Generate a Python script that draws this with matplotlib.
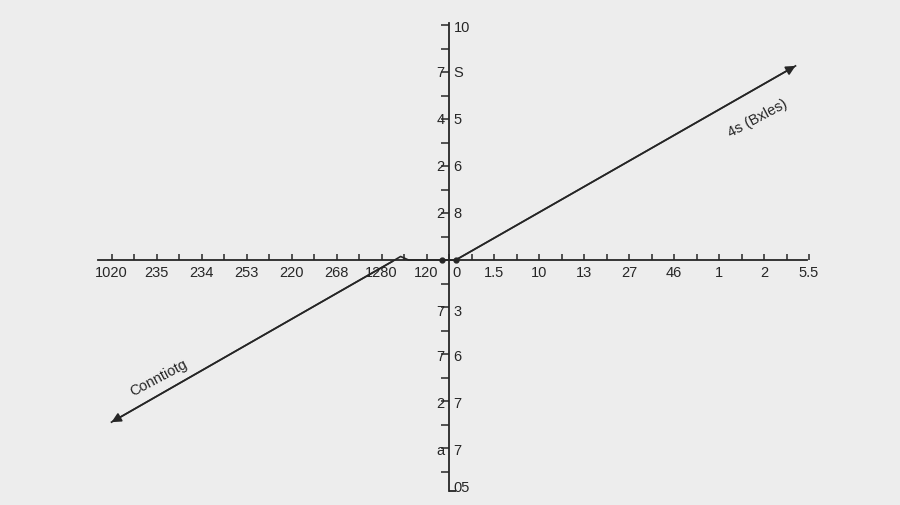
import numpy as np
import matplotlib
matplotlib.use("Agg")
import matplotlib.pyplot as plt

# tick labels as printed on the reference
x_labels_left = ["1020", "235", "234", "253", "220", "268", "1280", "120"]
x_labels_right = ["1.5", "10", "13", "27", "46", "1", "2", "5.5"]
y_labels_top = [("", "10"), ("7", "S"), ("4", "5"), ("2", "6"), ("2", "8")]
y_labels_bottom = [("7", "3"), ("7", "6"), ("2", "7"), ("a", "7"), ("", "05")]

# the single bent line, in axis units
line_x = [-15.0, -2.5, -2.15, -1.8, -0.3, 0.3, 15.4]
line_y = [-6.9, -0.05, 0.15, 0.0, 0.0, 0.0, 8.26]
dot_x = [-0.3, 0.3]
dot_y = [0.0, 0.0]

BG = "#ededed"
INK = "#262626"
FONT = "Liberation Sans"

fig = plt.figure(figsize=(9, 5.06), dpi=100)
fig.patch.set_facecolor(BG)
ax = fig.add_axes([0, 0, 1, 1])
ax.set_facecolor(BG)
ax.set_xlim(-449 / 22.5, 451 / 22.5)
ax.set_ylim(-245 / 23.5, 261 / 23.5)

for side in ["top", "right"]:
    ax.spines[side].set_visible(False)
for side in ["left", "bottom"]:
    ax.spines[side].set_position(("data", 0))
    ax.spines[side].set_color(INK)
    ax.spines[side].set_linewidth(1.3)
ax.spines["bottom"].set_bounds(-15.6, 15.9)
ax.spines["left"].set_bounds(-9.85, 10.1)

ax.set_xticks(np.arange(-15, 17))
ax.set_xticklabels([])
ax.set_yticks(np.arange(-9, 11))
ax.set_yticklabels([])
ax.tick_params(axis="x", direction="in", length=4, width=1.1, color=INK)
ax.tick_params(axis="y", direction="out", length=6, width=1.1, color=INK)
ax.hlines(-9.85, 0, 0.3, color=INK, lw=1.3)

# x tick labels: odd positions left of the axis, even to the right
for pos, lab in zip(np.arange(-15, 0, 2), x_labels_left):
    ax.text(pos, -0.2, lab, ha="center", va="top", fontsize=10.5,
            family=FONT, color=INK)
ax.text(0.32, -0.2, "0", ha="center", va="top", fontsize=10.5,
        family=FONT, color=INK)
for pos, lab in zip(np.arange(2, 17, 2), x_labels_right):
    ax.text(pos, -0.2, lab, ha="center", va="top", fontsize=10.5,
            family=FONT, color=INK)

# y tick labels split around the axis
y_top_pos = [9.9, 8.0, 6.0, 4.0, 2.0]
y_bot_pos = [-2.15, -4.1, -6.1, -8.1, -9.65]
for pos, (left, right) in zip(y_top_pos + y_bot_pos, y_labels_top + y_labels_bottom):
    if left:
        ax.text(-0.2, pos, left, ha="right", va="center", fontsize=10.5,
                family=FONT, color=INK)
    ax.text(0.2, pos, right, ha="left", va="center", fontsize=10.5,
            family=FONT, color=INK)

ax.plot(line_x, line_y, color=INK, lw=1.2, zorder=3)
ax.plot(dot_x, dot_y, "o", color=INK, ms=3.5, zorder=4)
ax.annotate("", xy=(line_x[0], line_y[0]), xytext=(line_x[1], line_y[1]),
            arrowprops=dict(arrowstyle="-|>", color=INK, lw=1.2,
                            mutation_scale=14, shrinkA=0, shrinkB=0))
ax.annotate("", xy=(line_x[-1], line_y[-1]), xytext=(line_x[-2], line_y[-2]),
            arrowprops=dict(arrowstyle="-|>", color=INK, lw=1.2,
                            mutation_scale=14, shrinkA=0, shrinkB=0))

ax.text(-12.9, -5.0, "Conntiotg", rotation=28, ha="center", va="center",
        fontsize=10.5, family=FONT, color=INK)
ax.text(13.7, 6.05, "4s (Bxles)", rotation=28, ha="center", va="center",
        fontsize=10.5, family=FONT, color=INK)

plt.savefig("out.png", dpi=100, facecolor=BG)
plt.close()
